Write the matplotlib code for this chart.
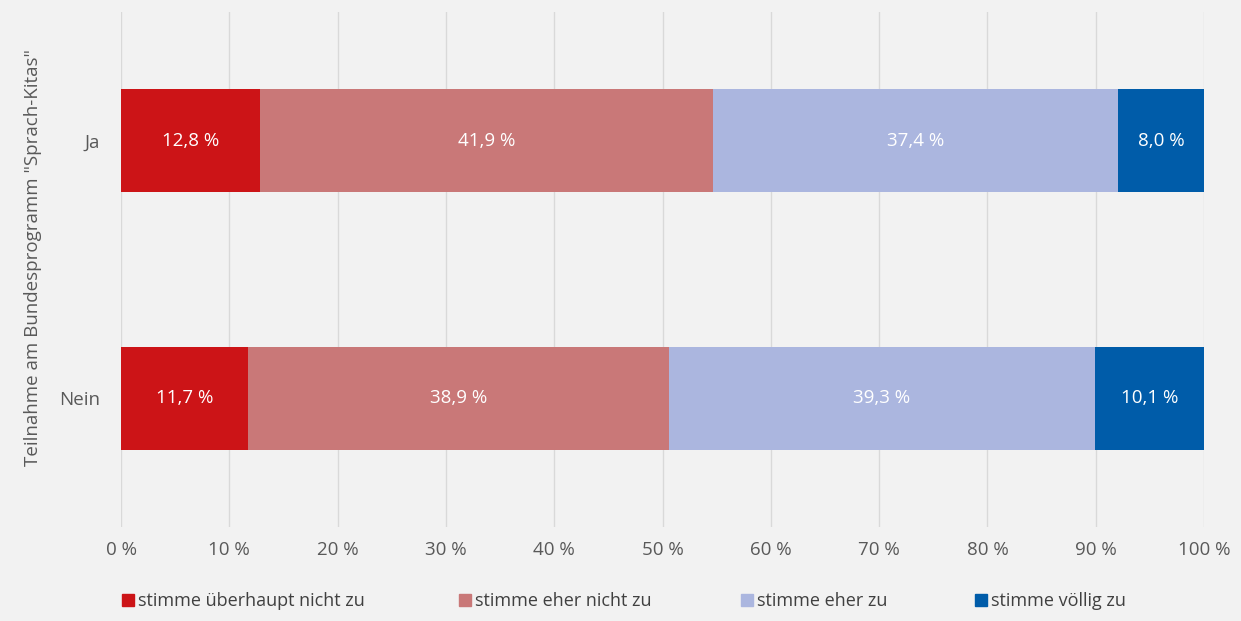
import matplotlib.pyplot as plt
from matplotlib.patches import Rectangle
import numpy as np

plt.rcParams['font.family'] = ['Open Sans', 'DejaVu Sans']

groups = ['Nein', 'Ja']
categories = ['stimme überhaupt nicht zu', 'stimme eher nicht zu',
              'stimme eher zu', 'stimme völlig zu']
values = {
    'stimme überhaupt nicht zu': [11.7, 12.8],
    'stimme eher nicht zu': [38.9, 41.9],
    'stimme eher zu': [39.3, 37.4],
    'stimme völlig zu': [10.1, 8.0],
}
colors = ['#cc1417', '#c97878', '#abb6df', '#005ca9']
xticks = np.arange(0, 101, 10)

bg = '#f2f2f2'
txt = '#595959'

fig = plt.figure(figsize=(12.41, 6.21), dpi=100, facecolor=bg)
ax = fig.add_axes([121 / 1241, 1 - 527 / 621, (1204 - 121) / 1241, 515 / 621])
ax.set_facecolor(bg)

y = np.arange(len(groups))
left = np.zeros(len(groups))
for cat, col in zip(categories, colors):
    vals = np.array(values[cat])
    ax.barh(y, vals, left=left, height=0.4, color=col, edgecolor='none', zorder=3)
    for yi, l, v in zip(y, left, vals):
        ax.text(l + v / 2, yi, f'{v:.1f} %'.replace('.', ','), ha='center', va='center',
                color='white', fontsize=13.5, zorder=4)
    left += vals

ax.set_xlim(0, 100)
ax.set_ylim(-0.5, 1.5)
ax.set_xticks(xticks)
ax.set_xticklabels([f'{t} %' for t in xticks], color=txt, fontsize=13.5)
ax.set_yticks(y)
ax.set_yticklabels(groups, color=txt, fontsize=13.5)
ax.tick_params(length=0)
ax.tick_params(axis='y', pad=15)
ax.tick_params(axis='x', pad=10)
ax.grid(axis='x', color='#d9d9d9', linewidth=1, zorder=0)
for s in ax.spines.values():
    s.set_visible(False)

fig.text(33 / 1241, 1 - 258 / 621, 'Teilnahme am Bundesprogramm "Sprach-Kitas"',
         rotation=90, ha='center', va='center', color=txt, fontsize=13.5)

# legend
leg_x = [122, 459, 741, 975]
for xp, cat, col in zip(leg_x, categories, colors):
    fig.add_artist(Rectangle((xp / 1241, 1 - 606 / 621), 12 / 1241, 12 / 621,
                             transform=fig.transFigure, color=col))
    fig.text((xp + 16) / 1241, 1 - 601 / 621, cat, ha='left', va='center',
             color='#404040', fontsize=13)

fig.savefig('out.png', dpi=100, facecolor=bg)
